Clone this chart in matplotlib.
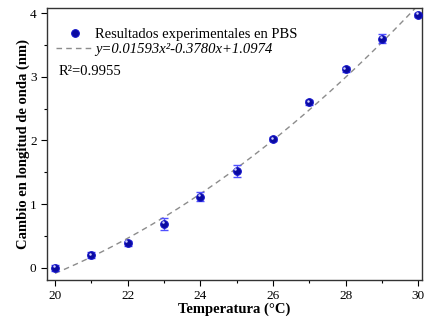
import numpy as np
import matplotlib
matplotlib.use('Agg')
import matplotlib.pyplot as plt
from matplotlib.ticker import MultipleLocator

plt.rcParams['font.family'] = ['Liberation Serif', 'DejaVu Serif']

# data
temperatura = np.array([20, 21, 22, 23, 24, 25, 26, 27, 28, 29, 30])
cambio = np.array([0.00, 0.20, 0.39, 0.69, 1.12, 1.52, 2.02, 2.60, 3.12, 3.60, 3.97])
error = np.array([0.05, 0.05, 0.04, 0.10, 0.07, 0.09, 0.03, 0.04, 0.04, 0.07, 0.03])

ecuacion = 'y=0.01593x²-0.3780x+1.0974'
r2_texto = 'R²=0.9955'

# quadratic fit of the points
coef = np.polyfit(temperatura, cambio, 2)
x_fit = np.linspace(20, 30, 200)
y_fit = np.polyval(coef, x_fit)

fig = plt.figure(figsize=(4.25, 3.2), dpi=100)
ax = fig.add_axes([0.1106, 0.125, 0.8824, 0.85])

ax.errorbar(temperatura, cambio, yerr=error, fmt='none', ecolor='#5050ff',
            elinewidth=1.0, capsize=3, capthick=1.0, zorder=2)
ax.plot(x_fit, y_fit, ls=(0, (4, 3)), color='#8c8c8c', lw=1.0, zorder=1)
ax.plot(temperatura, cambio, 'o', ms=5.5, color='#0a0aa0', mec='#1414c8', mew=0.8, zorder=3)
# highlight on the balls
ax.plot(temperatura - 0.04, cambio + 0.025, 'o', ms=1.8, color='#d0d0ff', mew=0, zorder=4)

h_line = plt.Line2D([0], [0], ls=(0, (4, 3)), color='#8c8c8c', lw=1.0)
h_pts = plt.Line2D([0], [0], marker='o', ls='none', ms=5.5, color='#0a0aa0', mec='#1414c8', mew=0.8)
leg = ax.legend(handles=[h_pts, h_line], labels=['Resultados experimentales en PBS', ecuacion],
                loc='upper left', frameon=False, fontsize=10.5, handlelength=2.6,
                handletextpad=0.1, borderaxespad=0.2, labelspacing=0.15,
                bbox_to_anchor=(0.0, 0.96))
leg.get_texts()[1].set_fontstyle('italic')
ax.text(0.03, 0.765, r2_texto, transform=ax.transAxes, fontsize=10.5, va='center', ha='left')

ax.set_xlim(19.78, 30.1)
ax.set_ylim(-0.19, 4.08)
ax.xaxis.set_major_locator(MultipleLocator(2))
ax.xaxis.set_minor_locator(MultipleLocator(1))
ax.yaxis.set_major_locator(MultipleLocator(1))
ax.yaxis.set_minor_locator(MultipleLocator(0.5))
ax.tick_params(which='major', direction='out', length=4, width=0.8, labelsize=9.5)
ax.tick_params(which='minor', direction='out', length=2.5, width=0.8)
for s in ax.spines.values():
    s.set_linewidth(1.0)
    s.set_color('#333333')

ax.set_xlabel('Temperatura (°C)', fontsize=10.5, fontweight='bold', labelpad=0)
ax.set_ylabel('Cambio en longitud de onda (nm)', fontsize=10.5, fontweight='bold', labelpad=0)

fig.savefig('out.png', dpi=100)
